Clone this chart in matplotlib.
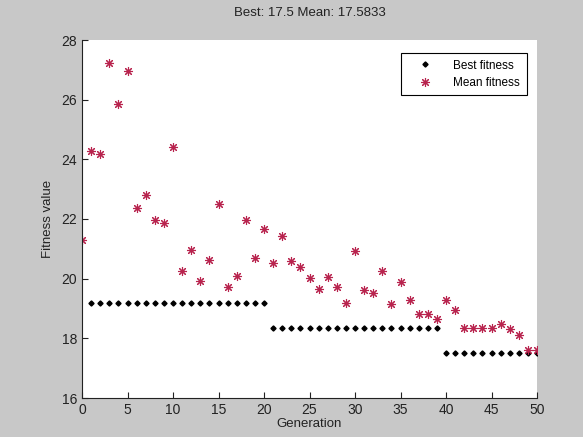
import numpy as np
import matplotlib
matplotlib.use('Agg')
import matplotlib.pyplot as plt

plt.rcParams['font.family'] = ['Liberation Sans', 'DejaVu Sans']

# generations and fitness values
gen_best = np.arange(1, 51)
best_fitness = [19.2] * 20 + [18.33] * 19 + [17.5] * 11

gen_mean = np.arange(0, 51)
mean_fitness = [21.3, 24.28, 24.19, 27.23, 25.85, 26.95, 22.38, 22.82, 21.98, 21.88,
                24.41, 20.27, 20.96, 19.91, 20.61, 22.51, 19.73, 20.08, 21.98, 20.68,
                21.68, 20.52, 21.42, 20.58, 20.40, 20.01, 19.66, 20.06, 19.73, 19.2,
                20.94, 19.62, 19.52, 20.26, 19.16, 19.88, 19.27, 18.81, 18.81, 18.64,
                19.27, 18.96, 18.35, 18.35, 18.35, 18.35, 18.47, 18.32, 18.11, 17.62,
                17.62]

bg = '#c8c8c8'
fig = plt.figure(figsize=(5.83, 4.37), dpi=100, facecolor=bg)
ax = fig.add_axes([82/583, 1 - 398/437, 455/583, 358/437])
ax.set_facecolor('white')

ax.plot(gen_best, best_fitness, linestyle='none', marker='D', markersize=2.6,
        color='black', label='Best fitness')
ax.plot(gen_mean, mean_fitness, linestyle='none', marker=(8, 2, 0), markersize=6.5,
        markeredgewidth=0.8, color='#b8244e', label='Mean fitness')

ax.set_xlim(0, 50)
ax.set_ylim(16, 28)
ax.set_xticks(np.arange(0, 51, 5))
ax.set_yticks(np.arange(16, 29, 2))
ax.tick_params(direction='in', length=4, labelsize=10, colors='#222222')
for s in ['top', 'right']:
    ax.spines[s].set_visible(False)
for s in ['left', 'bottom']:
    ax.spines[s].set_color('#222222')

ax.set_title('Best: 17.5 Mean: 17.5833', fontsize=9.5, pad=17, color='#222222')
ax.set_xlabel('Generation', fontsize=9.5, labelpad=1, color='#222222')
ax.set_ylabel('Fitness value', fontsize=9.5, labelpad=5, color='#222222')

leg = ax.legend(loc='upper right', bbox_to_anchor=(0.99, 0.98), fontsize=8.5,
                fancybox=False, edgecolor='black', framealpha=1,
                handlelength=3.0, handletextpad=0.9, borderpad=0.55, labelspacing=0.45)
leg.get_frame().set_linewidth(0.8)

fig.savefig('out.png', dpi=100, facecolor=bg)
